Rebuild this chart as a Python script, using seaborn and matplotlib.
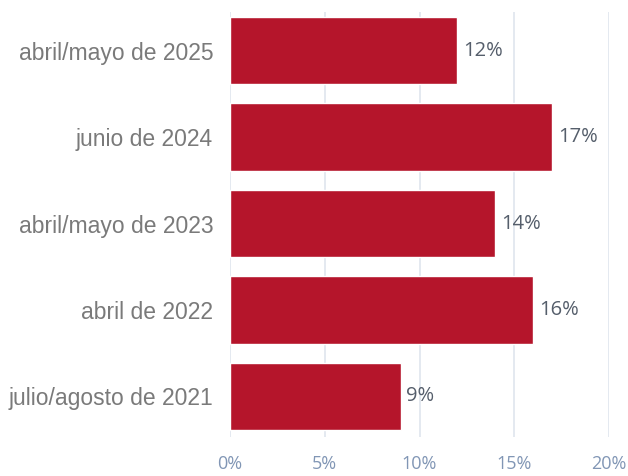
import pandas as pd
import matplotlib
matplotlib.use("Agg")
import matplotlib.pyplot as plt
import seaborn as sns

# datos
periodos = ['abril/mayo de 2025', 'junio de 2024', 'abril/mayo de 2023',
            'abril de 2022', 'julio/agosto de 2021']
valores = [12, 17, 14, 16, 9]
ticks = [0, 5, 10, 15, 20]

df = pd.DataFrame({'periodo': periodos, 'valor': valores})

sns.set_style('white')
fig = plt.figure(figsize=(6.28, 4.76), dpi=100)
ax = fig.add_axes([0.366, 0.082, 0.604, 0.893])

sns.barplot(data=df, x='valor', y='periodo', color='#B5152B', saturation=1,
            width=0.78, ax=ax, zorder=2)

ax.set_xlim(0, 20)
ax.set_ylim(4.47, -0.45)
ax.set_xticks(ticks)
ax.set_xticklabels([f'{t}%' for t in ticks], family='Open Sans',
                   fontsize=13, color='#8196b5')
ax.set_yticks(range(len(periodos)))
ax.set_yticklabels(periodos, family='Liberation Sans', fontsize=16.5,
                   color='#7a7a7a')
ax.tick_params(axis='both', length=0)
ax.tick_params(axis='y', pad=12)
ax.tick_params(axis='x', pad=13)

# lineas verticales de la cuadricula
ax.grid(axis='x', color='#e2e7ef', linewidth=1.3, zorder=0)
ax.set_axisbelow(True)
for s in ax.spines.values():
    s.set_visible(False)
ax.set_xlabel('')
ax.set_ylabel('')

# etiquetas de valor
for i, v in enumerate(valores):
    ax.text(v + 0.3, i, f'{v}%', va='center', ha='left', family='Open Sans',
            fontsize=14.5, color='#555e6b')

fig.savefig('out.png', dpi=100)
